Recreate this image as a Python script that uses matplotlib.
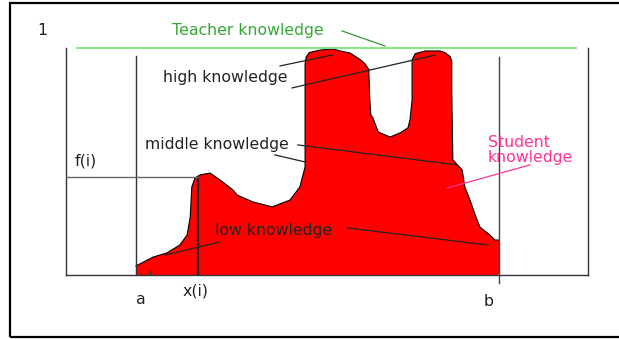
import matplotlib.pyplot as plt
from matplotlib.patches import Rectangle

plt.rcParams['font.family'] = ['DejaVu Sans']

# student knowledge curve (x along the interval, y as share of teacher knowledge)
curve_x = [13.4, 16.7, 19.3, 21.8, 23.2, 23.8, 24.1, 24.7, 25.7, 27.6, 29.5, 32.0,
           32.8, 35.8, 39.5, 42.9, 44.8, 45.8, 45.8, 45.8, 46.0, 46.6, 48.7, 51.1, 52.5,
           54.4, 56.3, 57.3, 58.0, 58.2, 58.4, 58.8, 59.8, 62.1, 64.0, 65.5, 65.9,
           66.3, 66.3, 66.9, 68.8, 71.6, 72.6, 73.6, 73.9, 73.9, 74.1, 75.9, 76.4, 77.4,
           78.4, 79.3, 81.2, 82.2, 83.0]
curve_y = [0.040, 0.079, 0.097, 0.132, 0.176, 0.256, 0.388, 0.427, 0.441, 0.449, 0.419, 0.374,
           0.352, 0.322, 0.300, 0.330, 0.388, 0.476, 0.771, 0.930, 0.960, 0.980, 0.991, 0.996, 0.987,
           0.978, 0.950, 0.930, 0.905, 0.771, 0.705, 0.692, 0.630, 0.608, 0.626, 0.648, 0.683,
           0.771, 0.947, 0.975, 0.987, 0.987, 0.980, 0.962, 0.940, 0.815, 0.507, 0.463, 0.388, 0.330,
           0.264, 0.211, 0.176, 0.154, 0.154]

a_pos, b_pos = 13.4, 83.0
xi, fi = 25.3, 0.432
teacher_level = 1.0

fig = plt.figure(figsize=(6.19, 3.39), dpi=100)
fig.patches.append(Rectangle((10 / 619, 2 / 339), 1.0, 334 / 339, transform=fig.transFigure,
                             fill=False, edgecolor='black', linewidth=1.6))

ax = fig.add_axes([66 / 619, (339 - 275) / 339, 522 / 619, 227 / 339])
ax.set_xlim(0, 100)
ax.set_ylim(0, 1)
ax.set_xticks([])
ax.set_yticks([])
ax.spines['top'].set_visible(False)
for s in ['left', 'right', 'bottom']:
    ax.spines[s].set_color('#333333')
    ax.spines[s].set_linewidth(1.0)

# red area
px = [a_pos] + curve_x + [b_pos]
py = [0] + curve_y + [0]
ax.fill(px, py, color='#ff0000', linewidth=0, zorder=2)
ax.plot(curve_x, curve_y, color='black', lw=0.8, zorder=3)

# teacher level
ax.plot([2.1, 97.7], [teacher_level, teacher_level], color='#7be87b', lw=1.3, clip_on=False, zorder=4)

# a, b, x(i), f(i)
ax.plot([a_pos, a_pos], [0, 0.965], color='#333333', lw=1.0, zorder=4)
ax.plot([b_pos, b_pos], [-0.035, 0.96], color='#444444', lw=1.0, clip_on=False, zorder=4)
ax.plot([xi, xi], [0, fi], color='#222222', lw=1.6, zorder=4)
ax.plot([0, xi], [fi, fi], color='#666666', lw=1.0, zorder=4)
ax.plot([16.1, 16.1], [0, 0.018], color='#333333', lw=1.0, zorder=4)

# leader lines
leaders = [
    ([41.0, 51.0], [0.921, 0.969], '#222222'),
    ([43.3, 70.7], [0.824, 0.969], '#222222'),
    ([44.4, 74.9], [0.573, 0.485], '#222222'),
    ([40.0, 45.8], [0.529, 0.498], '#222222'),
    ([29.3, 19.0], [0.145, 0.088], '#222222'),
    ([54.0, 80.8], [0.207, 0.132], '#222222'),
    ([88.9, 73.0], [0.485, 0.383], '#ff3399'),
    ([52.9, 61.1], [1.075, 1.009], '#339933'),
]
for lx, ly, c in leaders:
    ax.plot(lx, ly, color=c, lw=0.9, clip_on=False, zorder=5)

fs = 11.3
tc = '#222222'
ax.text(-4.6, 1.075, '1', fontsize=fs, color=tc, ha='center', va='center')
ax.text(20.3, 1.075, 'Teacher knowledge', fontsize=fs, color='#33a833', ha='left', va='center')
ax.text(18.6, 0.868, 'high knowledge', fontsize=fs, color=tc, ha='left', va='center', zorder=6)
ax.text(15.1, 0.573, 'middle knowledge', fontsize=fs, color=tc, ha='left', va='center', zorder=6)
ax.text(28.5, 0.198, 'low knowledge', fontsize=fs, color=tc, ha='left', va='center', zorder=6)
ax.text(80.8, 0.551, 'Student\nknowledge', fontsize=fs, color='#ff3399', ha='left', va='center',
        linespacing=0.95, zorder=6)
ax.text(1.7, 0.502, 'f(i)', fontsize=fs, color=tc, ha='left', va='center')
ax.text(24.9, -0.070, 'x(i)', fontsize=fs, color=tc, ha='center', va='center')
ax.text(14.4, -0.106, 'a', fontsize=fs, color=tc, ha='center', va='center')
ax.text(81.0, -0.115, 'b', fontsize=fs, color=tc, ha='center', va='center')

fig.savefig('out.png', dpi=100)
